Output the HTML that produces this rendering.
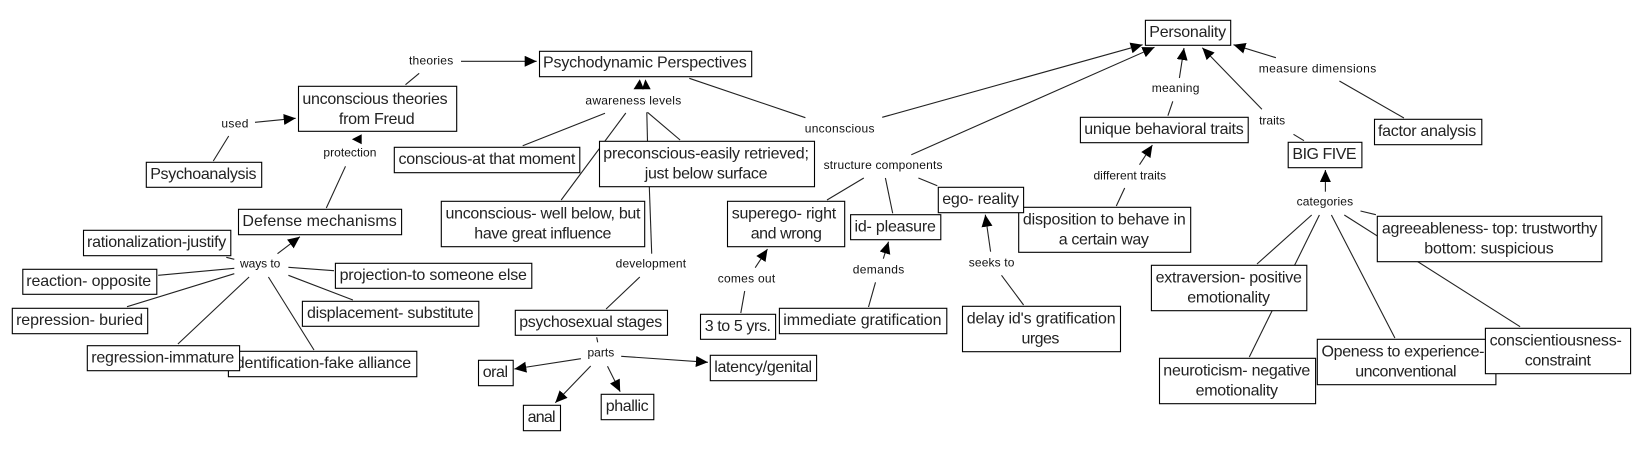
<!DOCTYPE html>
<html><head><meta charset="utf-8"><style>
html,body{margin:0;padding:0;background:#fff;width:1640px;height:450px;overflow:hidden}
svg{display:block}
text{font-family:"Liberation Sans",Arial,sans-serif;fill:#222}
.b text{font-size:16px}
.l text{font-size:12px;text-anchor:start;fill:#111}
.c line{stroke:#222;stroke-width:1.1}
.b rect{fill:#fff;stroke:#000;stroke-width:1.1}
</style></head><body>
<svg width="1640" height="450" viewBox="0 0 1640 450" xmlns="http://www.w3.org/2000/svg">
<defs><marker id="a" markerUnits="userSpaceOnUse" markerWidth="12" markerHeight="11" viewBox="0 0 12 11" refX="12" refY="5.5" orient="auto"><path d="M0 0L12 5.5L0 11z" fill="#000"/></marker></defs>
<g class="c">
<line x1="255" y1="122.3" x2="295.7" y2="118.3" marker-end="url(#a)"/>
<line x1="228.7" y1="136" x2="213.3" y2="161"/>
<line x1="419.2" y1="73.3" x2="405.5" y2="84.7"/>
<line x1="461" y1="61.3" x2="536.7" y2="61.3" marker-end="url(#a)"/>
<line x1="345.5" y1="166.3" x2="326.3" y2="208"/>
<line x1="277.5" y1="253.7" x2="299.9" y2="236.7" marker-end="url(#a)"/>
<line x1="226.3" y1="257.3" x2="234.3" y2="259.3"/>
<line x1="158.2" y1="275.3" x2="234.3" y2="268.3"/>
<line x1="127" y1="306.7" x2="234.3" y2="273.7"/>
<line x1="249.1" y1="277" x2="177.9" y2="344"/>
<line x1="268.4" y1="277" x2="314" y2="350"/>
<line x1="288.4" y1="275.3" x2="352.9" y2="300"/>
<line x1="288.4" y1="267.3" x2="334" y2="270.7"/>
<line x1="689.3" y1="78.3" x2="805.4" y2="117.7"/>
<line x1="882.2" y1="117.3" x2="1142.6" y2="44.7" marker-end="url(#a)"/>
<line x1="911.3" y1="154.7" x2="1154.5" y2="47.3" marker-end="url(#a)"/>
<line x1="605" y1="113.3" x2="522.7" y2="145.7"/>
<line x1="625.8" y1="113" x2="561.2" y2="200"/>
<line x1="646.8" y1="112.3" x2="647.5" y2="141.3"/>
<line x1="647.5" y1="112.3" x2="680.1" y2="140"/>
<line x1="649.3" y1="186.7" x2="651.7" y2="253.7"/>
<line x1="639.8" y1="277" x2="606.1" y2="309"/>
<line x1="863.8" y1="178" x2="827" y2="200"/>
<line x1="885.4" y1="178" x2="892.7" y2="213.3"/>
<line x1="918.4" y1="178" x2="937.3" y2="185.7"/>
<line x1="990.6" y1="251.7" x2="985.3" y2="214.7" marker-end="url(#a)"/>
<line x1="1001.5" y1="275.3" x2="1023.6" y2="305"/>
<line x1="883.3" y1="258.7" x2="888.5" y2="241.7" marker-end="url(#a)"/>
<line x1="875.5" y1="282.3" x2="868.5" y2="307"/>
<line x1="755.2" y1="267.7" x2="767.5" y2="249" marker-end="url(#a)"/>
<line x1="744.7" y1="291" x2="740.8" y2="313"/>
<line x1="596.7" y1="337.3" x2="597.7" y2="342.3"/>
<line x1="621.2" y1="356.3" x2="707.9" y2="362.3" marker-end="url(#a)"/>
<line x1="607.5" y1="366.3" x2="620.2" y2="391.7" marker-end="url(#a)"/>
<line x1="590.7" y1="366" x2="555.3" y2="402.7" marker-end="url(#a)"/>
<line x1="580.9" y1="358.7" x2="514.3" y2="369" marker-end="url(#a)"/>
<line x1="1179.4" y1="78" x2="1184" y2="48" marker-end="url(#a)"/>
<line x1="1167.9" y1="115.7" x2="1172.8" y2="101.3"/>
<line x1="1139.5" y1="164.7" x2="1152.4" y2="145" marker-end="url(#a)"/>
<line x1="1116.3" y1="206" x2="1124.7" y2="188"/>
<line x1="1261.9" y1="109.3" x2="1202.3" y2="47.7" marker-end="url(#a)"/>
<line x1="1304" y1="140.7" x2="1293.5" y2="134.3"/>
<line x1="1275.9" y1="57.7" x2="1233.5" y2="44.7" marker-end="url(#a)"/>
<line x1="1403.9" y1="118" x2="1339.4" y2="81"/>
<line x1="1325.4" y1="191.7" x2="1325.4" y2="170" marker-end="url(#a)"/>
<line x1="1360.5" y1="211" x2="1375.9" y2="214.7"/>
<line x1="1311.7" y1="215" x2="1257" y2="264"/>
<line x1="1319.4" y1="215" x2="1249.3" y2="357"/>
<line x1="1331.4" y1="215" x2="1394.9" y2="338"/>
<line x1="1344.3" y1="215" x2="1520.1" y2="326.7"/>
</g>
<polygon points="351.9,139.3 361.7,134.3 361.7,144.3" fill="#000"/>
<polygon points="633.5,89.3 639.8,79.3 644,89.3" fill="#000"/>
<polygon points="642,89.3 645.4,79.3 650.7,89.3" fill="#000"/>
<g class="b">
<rect x="539.5" y="51.3" width="212.2" height="25.4"/><text x="543" y="67.5" textLength="203.7" lengthAdjust="spacing">Psychodynamic Perspectives</text>
<rect x="298.5" y="86.3" width="158.2" height="45"/><text x="302.4" y="104" textLength="145.2" lengthAdjust="spacing">unconscious theories</text><text x="338.9" y="124" textLength="75.8" lengthAdjust="spacing">from Freud</text>
<rect x="146.3" y="162.3" width="115.4" height="25"/><text x="150.2" y="179" textLength="106.3" lengthAdjust="spacing">Psychoanalysis</text>
<rect x="394.3" y="147.3" width="185.5" height="25.4"/><text x="398.5" y="164" textLength="176.8" lengthAdjust="spacing">conscious-at that moment</text>
<rect x="238.5" y="209.3" width="163.1" height="25.4"/><text x="242.4" y="226" textLength="154.3" lengthAdjust="spacing">Defense mechanisms</text>
<rect x="441.3" y="201.3" width="203.4" height="45.4"/><text x="445.5" y="218.5" textLength="195" lengthAdjust="spacing">unconscious- well below, but</text><text x="474.3" y="238.5" textLength="137.1" lengthAdjust="spacing">have great influence</text>
<rect x="83.5" y="230.3" width="147.3" height="25.4"/><text x="87" y="247" textLength="139.3" lengthAdjust="spacing">rationalization-justify</text>
<rect x="22.8" y="269.3" width="134" height="25"/><text x="26.3" y="286" textLength="124.9" lengthAdjust="spacing">reaction- opposite</text>
<rect x="12.3" y="308.3" width="135.4" height="25.4"/><text x="16.1" y="325" textLength="127" lengthAdjust="spacing">repression- buried</text>
<rect x="228.4" y="351.3" width="188.4" height="25.4"/><text x="232.4" y="368" textLength="178.8" lengthAdjust="spacing">identification-fake alliance</text>
<rect x="87.3" y="345.7" width="152.3" height="25"/><text x="91.2" y="362.4" textLength="143.1" lengthAdjust="spacing">regression-immature</text>
<rect x="335.4" y="263.3" width="196.4" height="25"/><text x="339.6" y="280" textLength="187.3" lengthAdjust="spacing">projection-to someone else</text>
<rect x="302.4" y="301.3" width="176.4" height="25"/><text x="307" y="318" textLength="166.6" lengthAdjust="spacing">displacement- substitute</text>
<rect x="515.3" y="310.3" width="152.2" height="25"/><text x="519.2" y="327" textLength="143" lengthAdjust="spacing">psychosexual stages</text>
<rect x="478.5" y="360.3" width="34.7" height="25.4"/><text x="482.7" y="377" textLength="25.3" lengthAdjust="spacing">oral</text>
<rect x="523.4" y="405.3" width="37.1" height="25.4"/><text x="527.6" y="422" textLength="28" lengthAdjust="spacing">anal</text>
<rect x="599.5" y="141.3" width="215" height="45.4"/><text x="603.3" y="158.5" textLength="205.6" lengthAdjust="spacing">preconscious-easily retrieved;</text><text x="644.7" y="178.5" textLength="122.8" lengthAdjust="spacing">just below surface</text>
<rect x="727.5" y="201.3" width="117.2" height="45.4"/><text x="731.7" y="218.5" textLength="104.5" lengthAdjust="spacing">superego- right</text><text x="750.7" y="238.5" textLength="71.2" lengthAdjust="spacing">and wrong</text>
<rect x="850.6" y="214.7" width="90.2" height="25"/><text x="854.5" y="231.4" textLength="81.4" lengthAdjust="spacing">id- pleasure</text>
<rect x="1018.7" y="207.3" width="172" height="45"/><text x="1022.9" y="224.5" textLength="162.9" lengthAdjust="spacing">disposition to behave in</text><text x="1058.7" y="244.5" textLength="90.2" lengthAdjust="spacing">a certain way</text>
<rect x="938.3" y="187.3" width="85.3" height="25.4"/><text x="942.2" y="204" textLength="76.8" lengthAdjust="spacing">ego- reality</text>
<rect x="1080.4" y="117.3" width="167.8" height="25.4"/><text x="1084.3" y="134" textLength="159.4" lengthAdjust="spacing">unique behavioral traits</text>
<rect x="700.5" y="314.3" width="75.1" height="25"/><text x="704.7" y="331" textLength="66.3" lengthAdjust="spacing">3 to 5 yrs.</text>
<rect x="779.4" y="308.3" width="167.4" height="25.4"/><text x="783.3" y="325" textLength="158.2" lengthAdjust="spacing">immediate gratification</text>
<rect x="962.5" y="306.3" width="158" height="45.4"/><text x="966.8" y="323.5" textLength="148.8" lengthAdjust="spacing">delay id's gratification</text><text x="1021.5" y="343.5" textLength="37.9" lengthAdjust="spacing">urges</text>
<rect x="710.3" y="355.3" width="106.3" height="25.4"/><text x="714.2" y="372" textLength="97.9" lengthAdjust="spacing">latency/genital</text>
<rect x="601.2" y="394.3" width="52.6" height="25.4"/><text x="605.8" y="411" textLength="42.8" lengthAdjust="spacing">phallic</text>
<rect x="1145.4" y="20.3" width="85.3" height="25"/><text x="1149.3" y="37" textLength="76.8" lengthAdjust="spacing">Personality</text>
<rect x="1288.2" y="142.3" width="73.7" height="25.4"/><text x="1292.4" y="159" textLength="64.2" lengthAdjust="spacing">BIG FIVE</text>
<rect x="1374.5" y="119.3" width="107.3" height="25.4"/><text x="1378" y="136" textLength="98.2" lengthAdjust="spacing">factor analysis</text>
<rect x="1377.3" y="216.3" width="224.5" height="45.4"/><text x="1381.9" y="233.5" textLength="215.4" lengthAdjust="spacing">agreeableness- top: trustworthy</text><text x="1424.3" y="253.5" textLength="129.4" lengthAdjust="spacing">bottom: suspicious</text>
<rect x="1151.4" y="265.3" width="155.4" height="45.4"/><text x="1155.6" y="282.5" textLength="146.3" lengthAdjust="spacing">extraversion- positive</text><text x="1187.2" y="302.5" textLength="82.8" lengthAdjust="spacing">emotionality</text>
<rect x="1159.5" y="358.3" width="156.1" height="45.4"/><text x="1163.3" y="375.5" textLength="147" lengthAdjust="spacing">neuroticism- negative</text><text x="1195.6" y="395.5" textLength="82.4" lengthAdjust="spacing">emotionality</text>
<rect x="1317.3" y="339.3" width="178.6" height="45.4"/><text x="1321.5" y="356.5" textLength="163" lengthAdjust="spacing">Openess to experience-</text><text x="1355.2" y="376.5" textLength="101.4" lengthAdjust="spacing">unconventional</text>
<rect x="1485.4" y="328.3" width="145.2" height="45.4"/><text x="1489.6" y="345.5" textLength="132.2" lengthAdjust="spacing">conscientiousness-</text><text x="1524.7" y="365.5" textLength="66.3" lengthAdjust="spacing">constraint</text>
</g>
<g class="l">
<text x="409" y="64.7" textLength="44.2" lengthAdjust="spacing">theories</text>
<text x="221.4" y="127.7" textLength="27" lengthAdjust="spacing">used</text>
<text x="323.4" y="156.7" textLength="53" lengthAdjust="spacing">protection</text>
<text x="240" y="267.7" textLength="40.3" lengthAdjust="spacing">ways to</text>
<text x="585.4" y="104.7" textLength="95.8" lengthAdjust="spacing">awareness levels</text>
<text x="804.7" y="132.7" textLength="69.8" lengthAdjust="spacing">unconscious</text>
<text x="823.6" y="169" textLength="118.9" lengthAdjust="spacing">structure components</text>
<text x="615.6" y="267.7" textLength="70.5" lengthAdjust="spacing">development</text>
<text x="717.7" y="282.7" textLength="57.5" lengthAdjust="spacing">comes out</text>
<text x="852.7" y="273.7" textLength="51.6" lengthAdjust="spacing">demands</text>
<text x="968.8" y="266.7" textLength="45.6" lengthAdjust="spacing">seeks to</text>
<text x="587.5" y="356.7" textLength="26.7" lengthAdjust="spacing">parts</text>
<text x="1151.7" y="92" textLength="47.7" lengthAdjust="spacing">meaning</text>
<text x="1258.7" y="72.7" textLength="117.5" lengthAdjust="spacing">measure dimensions</text>
<text x="1259.1" y="124.7" textLength="26" lengthAdjust="spacing">traits</text>
<text x="1093.5" y="179.7" textLength="72.6" lengthAdjust="spacing">different traits</text>
<text x="1296.6" y="205.7" textLength="56.5" lengthAdjust="spacing">categories</text>
</g>
</svg>
</body></html>
